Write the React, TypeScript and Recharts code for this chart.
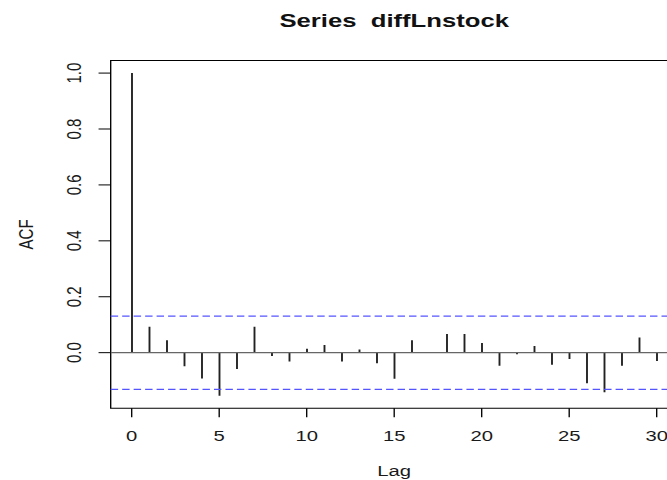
import React from 'react';
import { ComposedChart, Bar, XAxis, YAxis, ReferenceLine, ReferenceArea } from 'recharts';

// autocorrelation of diffLnstock
const lags = [0, 1, 2, 3, 4, 5, 6, 7, 8, 9, 10, 11, 12, 13, 14, 15, 16, 17, 18, 19, 20, 21, 22, 23, 24, 25, 26, 27, 28, 29, 30];
const acfValues = [
  1.0, 0.093, 0.044, -0.049, -0.092, -0.154, -0.058, 0.093, -0.012, -0.032, 0.014,
  0.027, -0.032, 0.011, -0.038, -0.093, 0.044, 0.001, 0.067, 0.067, 0.035,
  -0.047, -0.006, 0.024, -0.043, -0.023, -0.109, -0.142, -0.047, 0.054, -0.030,
];
const ciBound = 0.131;
const xTicks = [0, 5, 10, 15, 20, 25, 30];
const yTicks = [0, 0.2, 0.4, 0.6, 0.8, 1.0];

const data = lags.map((lag, i) => ({ lag, acf: acfValues[i] }));

const X_DOMAIN: [number, number] = [-1.2, 31.2];
const Y_DOMAIN: [number, number] = [-0.199, 1.045];

// the reference is stretched sideways, so the whole chart is too
const STRETCH = 1.35;
const FONT = '"Liberation Sans", Arial, sans-serif';

const XTick = (props: any) => {
  const { x, y, payload } = props;
  return (
    <text x={x} y={y} dy={23.4} textAnchor="middle" fontSize={15} fill="#1a1a1a" fontFamily={FONT}>
      {payload.value}
    </text>
  );
};

const YTick = (props: any) => {
  const { x, y, payload } = props;
  return (
    <text
      transform={`translate(${x - 13},${y}) rotate(-90)`}
      textAnchor="middle"
      fontSize={15}
      fill="#1a1a1a"
      fontFamily={FONT}
    >
      {Number(payload.value).toFixed(1)}
    </text>
  );
};

const LagLabel = (props: any) => {
  const vb = props.viewBox;
  return (
    <text x={vb.x + vb.width / 2} y={vb.y + 67.7} textAnchor="middle" fontSize={15} fill="#1a1a1a" fontFamily={FONT}>
      Lag
    </text>
  );
};

const AcfLabel = (props: any) => {
  const vb = props.viewBox;
  return (
    <text
      transform={`translate(${vb.x + 24.2},${vb.y + vb.height / 2}) rotate(-90)`}
      textAnchor="middle"
      fontSize={15}
      fill="#1a1a1a"
      fontFamily={FONT}
    >
      ACF
    </text>
  );
};

export default function App() {
  return (
    <div style={{ position: 'absolute', left: 0, top: 0, width: 667, height: 480, overflow: 'hidden', background: '#fff' }}>
      <div
        style={{
          position: 'relative',
          width: 515,
          height: 480,
          transform: `scaleX(${STRETCH})`,
          transformOrigin: '0 0',
          fontFamily: FONT,
        }}
      >
        <ComposedChart width={515} height={480} data={data} margin={{ top: 60.5, right: 13, bottom: 0, left: 0 }}>
          <XAxis
            dataKey="lag"
            type="number"
            domain={X_DOMAIN}
            ticks={xTicks}
            allowDataOverflow
            axisLine={false}
            tickLine={{ stroke: '#000' }}
            tickSize={9}
            tickMargin={0}
            height={71.7}
            tick={XTick}
            label={{ content: LagLabel }}
          />
          <YAxis
            type="number"
            domain={Y_DOMAIN}
            ticks={yTicks}
            allowDataOverflow
            axisLine={false}
            tickLine={{ stroke: '#000' }}
            tickSize={9}
            tickMargin={0}
            width={82}
            tick={YTick}
            label={{ content: AcfLabel }}
          />
          <ReferenceArea
            x1={X_DOMAIN[0]}
            x2={X_DOMAIN[1]}
            y1={Y_DOMAIN[0]}
            y2={Y_DOMAIN[1]}
            fill="none"
            fillOpacity={0}
            stroke="#000"
            strokeWidth={1}
            ifOverflow="visible"
          />
          <ReferenceLine y={0} stroke="#666" strokeWidth={1.2} />
          <ReferenceLine y={ciBound} stroke="#5555ff" strokeWidth={1.3} strokeDasharray="5.5 3" />
          <ReferenceLine y={-ciBound} stroke="#5555ff" strokeWidth={1.3} strokeDasharray="5.5 3" />
          <Bar dataKey="acf" barSize={1.4} fill="#222" isAnimationActive={false} />
        </ComposedChart>
        <div
          style={{
            position: 'absolute',
            left: 92,
            top: 10.6,
            width: 400,
            textAlign: 'center',
            fontSize: 19,
            lineHeight: '19px',
            fontWeight: 'bold',
            whiteSpace: 'pre',
            color: '#111',
          }}
        >
          {'Series  diffLnstock'}
        </div>
      </div>
    </div>
  );
}
